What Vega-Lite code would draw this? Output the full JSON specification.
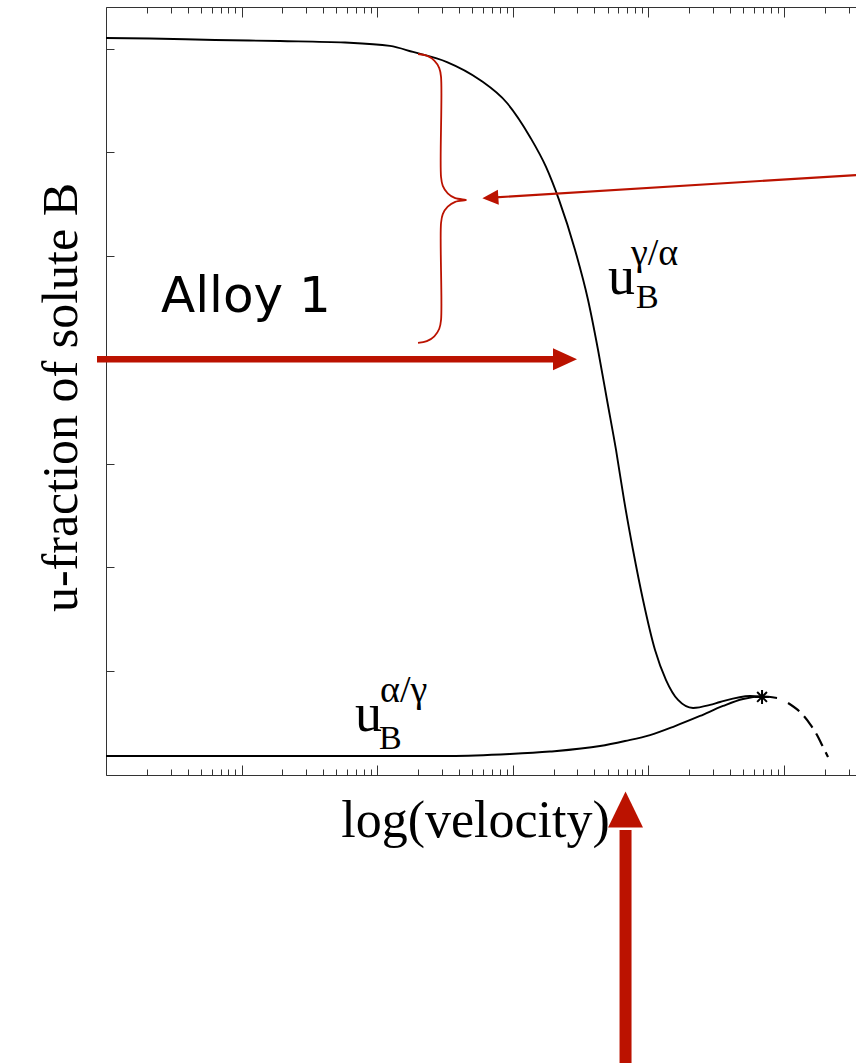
{
  "$schema": "https://vega.github.io/schema/vega-lite/v6.json",
  "width": 750,
  "height": 768,
  "autosize": {"type": "none"},
  "padding": {"left": 106, "top": 7, "right": 0, "bottom": 288},
  "background": "white",
  "config": {
    "view": {"stroke": null},
    "axis": {"domainColor": "#333", "tickColor": "#333", "domainWidth": 1, "tickWidth": 1, "grid": false, "labels": false}
  },
  "datasets": {
    "upper": [
      {"v": 1, "u": 0.7102}, {"v": 2.11, "u": 0.7097}, {"v": 6.37, "u": 0.7082}, {"v": 19.2, "u": 0.7072},
      {"v": 57.9, "u": 0.7058}, {"v": 124.3, "u": 0.7025}, {"v": 183.8, "u": 0.6967}, {"v": 327.4, "u": 0.687},
      {"v": 573.5, "u": 0.6697}, {"v": 907.2, "u": 0.6475}, {"v": 1340.6, "u": 0.6148}, {"v": 1759, "u": 0.5859},
      {"v": 2194, "u": 0.5541}, {"v": 2880, "u": 0.5059}, {"v": 3592, "u": 0.4577}, {"v": 4256, "u": 0.4095},
      {"v": 4957, "u": 0.3613}, {"v": 5776, "u": 0.3132}, {"v": 6617, "u": 0.265}, {"v": 7709, "u": 0.2168},
      {"v": 9137, "u": 0.1686}, {"v": 11201, "u": 0.1204}, {"v": 13503, "u": 0.0915}, {"v": 16554, "u": 0.0723},
      {"v": 21360, "u": 0.0646}, {"v": 28505, "u": 0.0675}, {"v": 33790, "u": 0.0703}, {"v": 56230, "u": 0.0761},
      {"v": 68950, "u": 0.0756}
    ],
    "lower": [
      {"v": 1, "u": 0.0183}, {"v": 26.97, "u": 0.0183}, {"v": 344.6, "u": 0.0183}, {"v": 954.5, "u": 0.0202},
      {"v": 1883, "u": 0.0226}, {"v": 4402, "u": 0.0279}, {"v": 6731, "u": 0.0328}, {"v": 10290, "u": 0.0385},
      {"v": 15734, "u": 0.0472}, {"v": 24052, "u": 0.0569}, {"v": 35546, "u": 0.0665}, {"v": 49926, "u": 0.0732},
      {"v": 68950, "u": 0.0756}, {"v": 88950, "u": 0.0742}
    ],
    "metastable": [
      {"v": 107200, "u": 0.0694}, {"v": 131400, "u": 0.0607}, {"v": 155800, "u": 0.0491},
      {"v": 175400, "u": 0.0385}, {"v": 191000, "u": 0.0289}, {"v": 211500, "u": 0.0173}
    ],
    "limit": [{"v": 68950, "u": 0.0752}],
    "brace": [
      {"i": 0, "v": 200.1, "u": 0.6947}, {"i": 1, "v": 232.4, "u": 0.6931}, {"i": 2, "v": 263.9, "u": 0.6883},
      {"i": 3, "v": 287.0, "u": 0.6811}, {"i": 4, "v": 295.8, "u": 0.6726}, {"i": 5, "v": 295.8, "u": 0.5762},
      {"i": 6, "v": 304.7, "u": 0.5677}, {"i": 7, "v": 331.4, "u": 0.5605}, {"i": 8, "v": 376.3, "u": 0.5558},
      {"i": 9, "v": 452.2, "u": 0.5541}, {"i": 10, "v": 376.3, "u": 0.5523}, {"i": 11, "v": 331.4, "u": 0.5476},
      {"i": 12, "v": 304.7, "u": 0.5404}, {"i": 13, "v": 295.8, "u": 0.5319}, {"i": 14, "v": 295.8, "u": 0.4384},
      {"i": 15, "v": 287.0, "u": 0.43}, {"i": 16, "v": 263.9, "u": 0.4227}, {"i": 17, "v": 232.4, "u": 0.418},
      {"i": 18, "v": 200.1, "u": 0.4163}
    ],
    "alloyShaft": [{"v": 0.8583, "u": 0.4006, "v2": 2050, "u2": 0.4006}],
    "alloyHead": [{"v": 2429, "u": 0.4006}],
    "velocityShaft": [{"v": 6788, "u": -0.2775, "v2": 6788, "u2": -0.053}],
    "velocityHead": [{"v": 6788, "u": -0.0332}],
    "braceShaft": [{"v": 340000, "u": 0.5781, "v2": 739.7, "u2": 0.5565}],
    "braceHead": [{"v": 683.2, "u": 0.5562}],
    "alloyLabel": [{"v": 2.545, "u": 0.4464, "text": "Alloy 1"}],
    "uLabel": [{"v": 5041, "u": 0.4635, "text": "u"}, {"v": 68.63, "u": 0.0424, "text": "u"}],
    "subLabel": [{"v": 8112, "u": 0.45, "text": "B"}, {"v": 103.2, "u": 0.0251, "text": "B"}],
    "supLabel": [{"v": 7451, "u": 0.4914, "text": "γ/α"}, {"v": 104.9, "u": 0.0703, "text": "α/γ"}]
  },
  "encoding": {
    "x": {"field": "v", "type": "quantitative", "scale": {"type": "log", "domain": [1, 340000], "nice": false}, "axis": null},
    "y": {"field": "u", "type": "quantitative", "scale": {"domain": [0, 0.74], "nice": false, "zero": false},
      "axis": {"orient": "left", "values": [0.1, 0.2, 0.3, 0.4, 0.5, 0.6, 0.7], "tickSize": -8, "domain": true, "labels": false,
        "title": "u-fraction of solute B", "titleFont": "Liberation Serif", "titleFontSize": 50, "titleFontWeight": "normal",
        "titleColor": "black", "titleBaseline": "alphabetic", "titleAlign": "center", "titleAngle": -90, "titleX": -30, "titleY": 390}}
  },
  "layer": [
    {
      "data": {"name": "upper"},
      "mark": {"type": "line", "color": "black", "strokeWidth": 1.9, "interpolate": "monotone"},
      "encoding": {
        "x": {"field": "v", "type": "quantitative", "scale": {"type": "log", "domain": [1, 340000], "nice": false},
          "axis": {"orient": "bottom", "values": [1, 10, 100, 1000, 10000, 100000], "tickSize": -10, "domain": true, "labels": false,
            "title": "log(velocity)", "titleFont": "Liberation Serif", "titleFontSize": 52, "titleFontWeight": "normal",
            "titleColor": "black", "titleBaseline": "alphabetic", "titleAlign": "center", "titleX": 369, "titleY": 61}}
      }
    },
    {
      "data": {"name": "lower"},
      "mark": {"type": "line", "color": "black", "strokeWidth": 1.9, "interpolate": "monotone"},
      "encoding": {
        "x": {"field": "v", "type": "quantitative", "scale": {"type": "log", "domain": [1, 340000], "nice": false},
          "axis": {"orient": "bottom", "values": [2, 3, 4, 5, 6, 7, 8, 9, 20, 30, 40, 50, 60, 70, 80, 90, 200, 300, 400, 500, 600, 700, 800, 900, 2000, 3000, 4000, 5000, 6000, 7000, 8000, 9000, 20000, 30000, 40000, 50000, 60000, 70000, 80000, 90000, 200000, 300000],
            "tickSize": -6, "domain": false, "labels": false, "title": null}}
      }
    },
    {
      "data": {"name": "metastable"},
      "mark": {"type": "line", "color": "black", "strokeWidth": 2.2, "interpolate": "monotone", "strokeDash": [14, 7]},
      "encoding": {
        "x": {"field": "v", "type": "quantitative", "scale": {"type": "log", "domain": [1, 340000], "nice": false},
          "axis": {"orient": "top", "values": [1, 10, 100, 1000, 10000, 100000], "tickSize": -10, "domain": true, "labels": false, "title": null}}
      }
    },
    {
      "data": {"name": "limit"},
      "mark": {"type": "point", "shape": "M-1,0L1,0M0,-1L0,1M-0.7,-0.7L0.7,0.7M-0.7,0.7L0.7,-0.7", "size": 196, "filled": false, "stroke": "black", "strokeWidth": 2, "opacity": 1},
      "encoding": {
        "x": {"field": "v", "type": "quantitative", "scale": {"type": "log", "domain": [1, 340000], "nice": false},
          "axis": {"orient": "top", "values": [2, 3, 4, 5, 6, 7, 8, 9, 20, 30, 40, 50, 60, 70, 80, 90, 200, 300, 400, 500, 600, 700, 800, 900, 2000, 3000, 4000, 5000, 6000, 7000, 8000, 9000, 20000, 30000, 40000, 50000, 60000, 70000, 80000, 90000, 200000, 300000],
            "tickSize": -6, "domain": false, "labels": false, "title": null}}
      }
    },
    {
      "data": {"name": "brace"},
      "mark": {"type": "line", "color": "#bb1200", "strokeWidth": 1.8, "interpolate": "catmull-rom"},
      "encoding": {"order": {"field": "i", "type": "quantitative"}}
    },
    {
      "data": {"name": "alloyShaft"},
      "mark": {"type": "rule", "color": "#bb1200", "strokeWidth": 6.5, "strokeCap": "butt"},
      "encoding": {"x2": {"field": "v2"}, "y2": {"field": "u2"}}
    },
    {
      "data": {"name": "alloyHead"},
      "mark": {"type": "point", "shape": "M-1,-0.92L1,0L-1,0.92Z", "size": 576, "filled": true, "color": "#bb1200", "opacity": 1, "strokeWidth": 0}
    },
    {
      "data": {"name": "velocityShaft"},
      "mark": {"type": "rule", "color": "#bb1200", "strokeWidth": 12, "strokeCap": "butt"},
      "encoding": {"x2": {"field": "v2"}, "y2": {"field": "u2"}}
    },
    {
      "data": {"name": "velocityHead"},
      "mark": {"type": "point", "shape": "M-0.97,1L0,-1L0.97,1Z", "size": 1296, "filled": true, "color": "#bb1200", "opacity": 1, "strokeWidth": 0}
    },
    {
      "data": {"name": "braceShaft"},
      "mark": {"type": "rule", "color": "#bb1200", "strokeWidth": 2.2, "strokeCap": "butt"},
      "encoding": {"x2": {"field": "v2"}, "y2": {"field": "u2"}}
    },
    {
      "data": {"name": "braceHead"},
      "mark": {"type": "point", "shape": "M1,-0.94L-1,0L1,0.94Z", "size": 256, "angle": -3.57, "filled": true, "color": "#bb1200", "opacity": 1, "strokeWidth": 0}
    },
    {
      "data": {"name": "alloyLabel"},
      "mark": {"type": "text", "font": "DejaVu Sans", "fontSize": 50, "align": "left", "baseline": "alphabetic", "color": "black"},
      "encoding": {"text": {"field": "text"}}
    },
    {
      "data": {"name": "uLabel"},
      "mark": {"type": "text", "font": "Liberation Serif", "fontSize": 54, "align": "left", "baseline": "alphabetic", "color": "black"},
      "encoding": {"text": {"field": "text"}}
    },
    {
      "data": {"name": "subLabel"},
      "mark": {"type": "text", "font": "Liberation Serif", "fontSize": 34, "align": "left", "baseline": "alphabetic", "color": "black"},
      "encoding": {"text": {"field": "text"}}
    },
    {
      "data": {"name": "supLabel"},
      "mark": {"type": "text", "font": "Liberation Serif", "fontSize": 38, "align": "left", "baseline": "alphabetic", "color": "black"},
      "encoding": {"text": {"field": "text"}}
    }
  ],
  "resolve": {"axis": {"x": "independent"}}
}
